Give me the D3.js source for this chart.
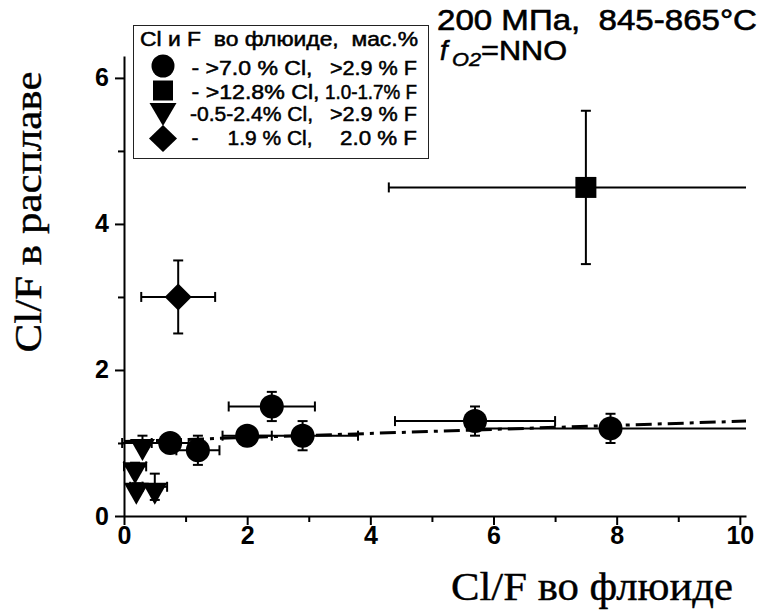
<!DOCTYPE html>
<html>
<head>
<meta charset="utf-8">
<script src="https://cdn.jsdelivr.net/npm/d3@7"></script>
<style>
  body { margin: 0; background: #fff; }
  svg { display: block; }
</style>
</head>
<body>
<svg id="chart"></svg>
<script>

// circles: >7.0 % Cl, >2.9 % F
var circleX = [0.75, 1.2, 2.0, 2.4, 2.9, 5.7, 7.9];
var circleY = [1.0, 0.9, 1.1, 1.5, 1.1, 1.3, 1.2];
var circleXErr = [0.3, 0.35, 0.4, 0.7, 0.9, 1.3, 2.2];
var circleYErr = [0.1, 0.2, 0.05, 0.2, 0.2, 0.2, 0.2];

// square: >12.8 % Cl, 1.0-1.7 % F
var squareX = [7.5];
var squareY = [4.5];
var squareXErr = [3.2];
var squareYErr = [1.05];

// triangles: 0.5-2.4 % Cl, >2.9 % F
var triX = [0.3, 0.18, 0.2, 0.5];
var triY = [1.0, 0.68, 0.4, 0.4];
var triXErr = [0.33, 0.18, 0.1, 0.2];
var triYErr = [0.1, 0.05, 0.05, 0.18];

// diamond: 1.9 % Cl, 2.0 % F
var diamondX = [0.88];
var diamondY = [3.0];
var diamondXErr = [0.6];
var diamondYErr = [0.5];

// dash-dot fit line
var fitX = [0, 10.1];
var fitY = [1.02, 1.30];

var xMajor = [0, 2, 4, 6, 8, 10],
    xMinor = [1, 3, 5, 7, 9],
    yMajor = [0, 2, 4, 6],
    yMinor = [1, 3, 5];

var legendTitle = "Cl и F  во флюиде,  мас.%";
var legendLeft = ["- >7.0 % Cl,", "- >12.8% Cl,", "-0.5-2.4% Cl,", "-     1.9 % Cl,"];
var legendRight = [">2.9 % F", "1.0-1.7% F", ">2.9 % F", "2.0 % F"];

var width = 764,
    height = 614;

var svg = d3.select("#chart")
    .attr("width", width)
    .attr("height", height);

var x = d3.scaleLinear().domain([0, 10.1]).range([124, 746]);
var y = d3.scaleLinear().domain([0, 6.3]).range([516, 56]);

function zip(xs, ys, xe, ye) {
    return xs.map(function(d, i) {
        return {x: d, y: ys[i], xe: xe[i], ye: ye[i]};
    });
}

var circles = zip(circleX, circleY, circleXErr, circleYErr),
    squares = zip(squareX, squareY, squareXErr, squareYErr),
    tris = zip(triX, triY, triXErr, triYErr),
    diamonds = zip(diamondX, diamondY, diamondXErr, diamondYErr);

drawAxes();
drawFit();
[circles, squares, tris, diamonds].forEach(drawErrors);
drawMarkers();
drawLegend();
drawTitles();

function drawAxes() {
    var font = "'Liberation Sans', Arial, sans-serif",
        fmt = d3.format("d");

    svg.append("g")
        .attr("transform", "translate(0," + y(0) + ")")
        .call(d3.axisBottom(x).tickValues(xMajor).tickSize(9).tickSizeOuter(0).tickPadding(1).tickFormat(fmt));
    svg.append("g")
        .attr("transform", "translate(0," + y(0) + ")")
        .call(d3.axisBottom(x).tickValues(xMinor).tickSize(6).tickSizeOuter(0).tickFormat(""))
        .select(".domain").remove();

    svg.append("g")
        .attr("transform", "translate(" + x(0) + ",0)")
        .call(d3.axisLeft(y).tickValues(yMajor).tickSize(9).tickSizeOuter(0).tickPadding(6).tickFormat(fmt));
    svg.append("g")
        .attr("transform", "translate(" + x(0) + ",0)")
        .call(d3.axisLeft(y).tickValues(yMinor).tickSize(6).tickSizeOuter(0).tickFormat(""))
        .select(".domain").remove();

    svg.selectAll(".domain").attr("stroke", "#000").attr("stroke-width", 2);
    svg.selectAll(".tick line").attr("stroke", "#000").attr("stroke-width", 2);
    svg.selectAll(".tick text")
        .attr("fill", "#000")
        .style("font-family", font)
        .style("font-weight", "bold")
        .style("font-size", "25px");
}

function drawFit() {
    var line = d3.line()
        .x(function(d) { return x(d[0]); })
        .y(function(d) { return y(d[1]); });

    svg.append("path")
        .datum(fitX.map(function(d, i) { return [d, fitY[i]]; }))
        .attr("d", line)
        .attr("fill", "none")
        .attr("stroke", "#000")
        .attr("stroke-width", 3)
        .attr("stroke-dasharray", "16,6,4,6");
}

// horizontal and vertical error bars with caps
function drawErrors(data) {
    var cap = 5,
        xMax = x.domain()[1];
    var g = svg.append("g")
        .attr("stroke", "#000")
        .attr("stroke-width", 2);

    data.forEach(function(d) {
        var x0 = x(d.x - d.xe),
            x1 = x(Math.min(d.x + d.xe, xMax)),
            y0 = y(d.y - d.ye),
            y1 = y(d.y + d.ye),
            cx = x(d.x),
            cy = y(d.y);

        g.append("line").attr("x1", x0).attr("x2", x1).attr("y1", cy).attr("y2", cy);
        g.append("line").attr("x1", x0).attr("x2", x0).attr("y1", cy - cap).attr("y2", cy + cap);
        if (d.x + d.xe <= xMax) {
            g.append("line").attr("x1", x1).attr("x2", x1).attr("y1", cy - cap).attr("y2", cy + cap);
        }

        g.append("line").attr("x1", cx).attr("x2", cx).attr("y1", y0).attr("y2", y1);
        g.append("line").attr("x1", cx - cap).attr("x2", cx + cap).attr("y1", y0).attr("y2", y0);
        g.append("line").attr("x1", cx - cap).attr("x2", cx + cap).attr("y1", y1).attr("y2", y1);
    });
}

// marker shapes, drawn around (0,0)
function circlePath(r) {
    return "M" + (-r) + ",0A" + r + "," + r + " 0 1,0 " + r + ",0A" + r + "," + r + " 0 1,0 " + (-r) + ",0Z";
}
function squarePath(s) {
    var h = s / 2;
    return "M" + (-h) + "," + (-h) + "H" + h + "V" + h + "H" + (-h) + "Z";
}
function triPath(w, h, top) {
    return "M" + (-w / 2) + "," + top + "H" + (w / 2) + "L0," + (top + h) + "Z";
}
function diamondPath(w, h) {
    return "M0," + (-h / 2) + "L" + (w / 2) + ",0L0," + (h / 2) + "L" + (-w / 2) + ",0Z";
}

function drawMarkers() {
    var sets = [
        {data: circles, path: circlePath(12)},
        {data: squares, path: squarePath(21)},
        {data: tris, path: triPath(25, 22, -4)},
        {data: diamonds, path: diamondPath(27, 27)}
    ];

    sets.forEach(function(s) {
        svg.append("g").selectAll("path")
            .data(s.data)
            .enter()
            .append("path")
            .attr("d", s.path)
            .attr("transform", function(d) { return "translate(" + x(d.x) + "," + y(d.y) + ")"; })
            .attr("fill", "#000");
    });
}

function drawLegend() {
    var font = "'Liberation Sans', Arial, sans-serif";
    var g = svg.append("g");

    g.append("rect")
        .attr("x", 133.5).attr("y", 25.5)
        .attr("width", 295).attr("height", 133)
        .attr("fill", "#fff")
        .attr("stroke", "#222")
        .attr("stroke-width", 1);

    g.append("text")
        .attr("x", 140).attr("y", 46)
        .attr("textLength", 278)
        .attr("lengthAdjust", "spacingAndGlyphs")
        .attr("stroke", "#000")
        .attr("stroke-width", 0.5)
        .style("font-family", font)
        .style("font-size", "20px")
        .style("white-space", "pre")
        .text(legendTitle);

    var symbols = [circlePath(11.5), squarePath(20), triPath(27, 23, -12), diamondPath(28, 27)],
        symY = [66, 90.5, 115, 138.5],
        baseY = [75, 98.5, 121, 145],
        leftX = [191.5, 191.5, 190, 191.5],
        leftLen = [121, 128, 123, 121],
        rightX = [330, 325, 330, 340];

    symbols.forEach(function(p, i) {
        g.append("path")
            .attr("d", p)
            .attr("transform", "translate(163," + symY[i] + ")")
            .attr("fill", "#000");

        g.append("text")
            .attr("x", leftX[i]).attr("y", baseY[i])
            .attr("textLength", leftLen[i])
            .attr("lengthAdjust", "spacingAndGlyphs")
            .attr("stroke", "#000")
            .attr("stroke-width", 0.5)
            .style("font-family", font)
            .style("font-size", "20px")
            .style("white-space", "pre")
            .text(legendLeft[i]);

        g.append("text")
            .attr("x", rightX[i]).attr("y", baseY[i])
            .attr("textLength", 417 - rightX[i])
            .attr("lengthAdjust", "spacingAndGlyphs")
            .attr("stroke", "#000")
            .attr("stroke-width", 0.5)
            .style("font-family", font)
            .style("font-size", "20px")
            .style("white-space", "pre")
            .text(legendRight[i]);
    });
}

function drawTitles() {
    var serif = "'Liberation Serif', 'Times New Roman', serif",
        sans = "'Liberation Sans', Arial, sans-serif";

    // x axis title
    svg.append("text")
        .attr("x", 451).attr("y", 600)
        .attr("textLength", 282)
        .attr("lengthAdjust", "spacingAndGlyphs")
        .attr("stroke", "#000")
        .attr("stroke-width", 0.4)
        .style("font-family", serif)
        .style("font-size", "40px")
        .text("Cl/F во флюиде");

    // y axis title
    svg.append("text")
        .attr("transform", "translate(41,212) rotate(-90)")
        .attr("text-anchor", "middle")
        .attr("textLength", 281)
        .attr("lengthAdjust", "spacingAndGlyphs")
        .attr("stroke", "#000")
        .attr("stroke-width", 0.4)
        .style("font-family", serif)
        .style("font-size", "38px")
        .text("Cl/F в расплаве");

    // conditions
    svg.append("text")
        .attr("x", 437).attr("y", 30)
        .attr("textLength", 320)
        .attr("lengthAdjust", "spacingAndGlyphs")
        .attr("stroke", "#000")
        .attr("stroke-width", 0.6)
        .style("font-family", sans)
        .style("font-size", "29px")
        .style("white-space", "pre")
        .text("200 МПа,  845-865°C");

    svg.append("text")
        .attr("x", 440).attr("y", 60)
        .attr("stroke", "#000")
        .attr("stroke-width", 0.6)
        .style("font-family", sans)
        .style("font-style", "italic")
        .style("font-size", "27px")
        .text("f");
    svg.append("text")
        .attr("x", 452).attr("y", 66)
        .attr("textLength", 29)
        .attr("lengthAdjust", "spacingAndGlyphs")
        .attr("stroke", "#000")
        .attr("stroke-width", 0.5)
        .style("font-family", sans)
        .style("font-style", "italic")
        .style("font-size", "19px")
        .text("O2");
    svg.append("text")
        .attr("x", 481).attr("y", 60)
        .attr("textLength", 86)
        .attr("lengthAdjust", "spacingAndGlyphs")
        .attr("stroke", "#000")
        .attr("stroke-width", 0.6)
        .style("font-family", sans)
        .style("font-size", "28px")
        .text("=NNO");
}
</script>
</body>
</html>
